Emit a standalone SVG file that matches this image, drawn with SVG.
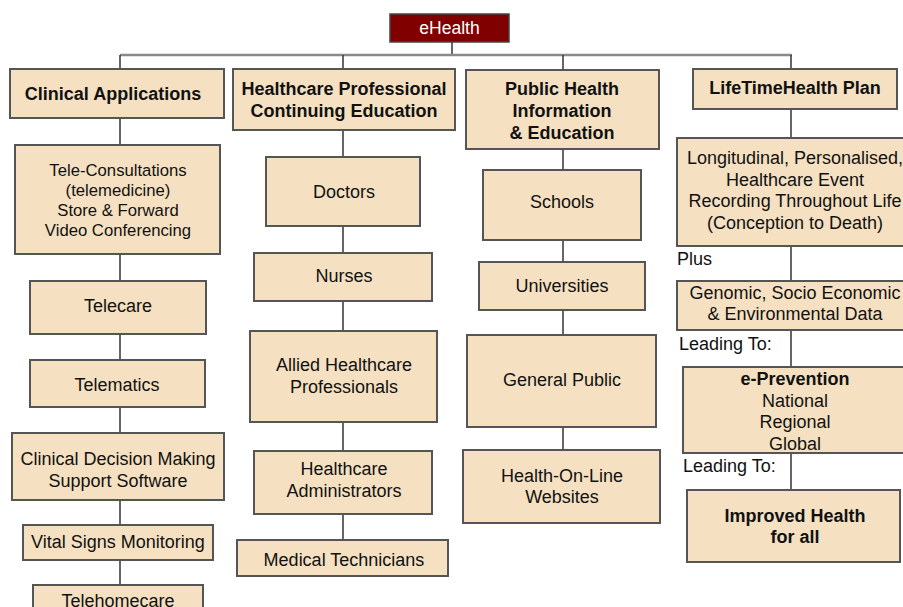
<svg xmlns="http://www.w3.org/2000/svg" width="903" height="607" viewBox="0 0 903 607">
<style>
.box{fill:#f5e1c2;stroke:#555;stroke-width:2}
.t{font-family:"Liberation Sans",Arial,sans-serif;font-size:18px;fill:#111;text-anchor:middle}
.s{font-size:16.7px}
.b{font-weight:bold;font-size:18px}
.lbl{font-family:"Liberation Sans",Arial,sans-serif;font-size:18px;fill:#111}
.c{stroke:#333;stroke-width:1.5;fill:none}
.bar{stroke:#8a8a8a;stroke-width:2.5;fill:none}
</style>
<g id="connectors">
<line class="c" x1="452" y1="42" x2="452" y2="55"/>
<line class="bar" x1="120" y1="55" x2="792" y2="55"/>
<line class="c" x1="120" y1="55" x2="120" y2="69"/>
<line class="c" x1="343" y1="55" x2="343" y2="69"/>
<line class="c" x1="563" y1="55" x2="563" y2="70"/>
<line class="c" x1="791" y1="55" x2="791" y2="69"/>
<line class="c" x1="120" y1="118" x2="120" y2="585"/>
<line class="c" x1="343" y1="130" x2="343" y2="540"/>
<line class="c" x1="563" y1="149" x2="563" y2="450"/>
<line class="c" x1="791" y1="109" x2="791" y2="490"/>
</g>
<g id="ehealth">
<rect x="390" y="14" width="119" height="28" fill="#800000" stroke="#444" stroke-width="1.5"/>
<text class="t" x="449.5" y="34" style="fill:#fff;font-size:17.5px">eHealth</text>
</g>
<g id="clinical-applications">
<rect class="box" x="10" y="69" width="214" height="49"/>
<text class="t b" x="113" y="100">Clinical Applications</text>
</g>
<g id="tele-consultations">
<rect class="box" x="15" y="145" width="205" height="109"/>
<text class="t s" x="118" y="176">Tele-Consultations</text>
<text class="t s" x="118" y="196">(telemedicine)</text>
<text class="t s" x="118" y="216">Store &amp; Forward</text>
<text class="t s" x="118" y="236">Video Conferencing</text>
</g>
<g id="telecare">
<rect class="box" x="30" y="281" width="176" height="53"/>
<text class="t" x="118" y="312">Telecare</text>
</g>
<g id="telematics">
<rect class="box" x="30" y="360" width="175" height="47"/>
<text class="t" x="117" y="391">Telematics</text>
</g>
<g id="clinical-decision">
<rect class="box" x="12" y="433" width="212" height="67"/>
<text class="t" x="118" y="465">Clinical Decision Making</text>
<text class="t" x="118" y="487">Support Software</text>
</g>
<g id="vital-signs">
<rect class="box" x="23" y="525" width="190" height="35"/>
<text class="t" x="118" y="548">Vital Signs Monitoring</text>
</g>
<g id="telehomecare">
<rect class="box" x="33" y="585" width="170" height="30"/>
<text class="t" x="118" y="607">Telehomecare</text>
</g>
<g id="hpce">
<rect class="box" x="233" y="69" width="222" height="61"/>
<text class="t b" x="344" y="95">Healthcare Professional</text>
<text class="t b" x="344" y="117">Continuing Education</text>
</g>
<g id="doctors">
<rect class="box" x="266" y="157" width="154" height="69"/>
<text class="t" x="344" y="198">Doctors</text>
</g>
<g id="nurses">
<rect class="box" x="254" y="253" width="178" height="48"/>
<text class="t" x="344" y="282">Nurses</text>
</g>
<g id="allied">
<rect class="box" x="250" y="331" width="187" height="91"/>
<text class="t" x="344" y="371">Allied Healthcare</text>
<text class="t" x="344" y="393">Professionals</text>
</g>
<g id="administrators">
<rect class="box" x="254" y="451" width="178" height="63"/>
<text class="t" x="344" y="475">Healthcare</text>
<text class="t" x="344" y="497">Administrators</text>
</g>
<g id="technicians">
<rect class="box" x="237" y="540" width="211" height="36"/>
<text class="t" x="344" y="566">Medical Technicians</text>
</g>
<g id="public-health">
<rect class="box" x="466" y="70" width="193" height="79"/>
<text class="t b" x="562" y="95">Public Health</text>
<text class="t b" x="562" y="117">Information</text>
<text class="t b" x="562" y="139">&amp; Education</text>
</g>
<g id="schools">
<rect class="box" x="483" y="170" width="158" height="70"/>
<text class="t" x="562" y="208">Schools</text>
</g>
<g id="universities">
<rect class="box" x="479" y="262" width="166" height="48"/>
<text class="t" x="562" y="292">Universities</text>
</g>
<g id="general-public">
<rect class="box" x="467" y="335" width="189" height="92"/>
<text class="t" x="562" y="386">General Public</text>
</g>
<g id="health-online">
<rect class="box" x="463" y="450" width="197" height="73"/>
<text class="t" x="562" y="482">Health-On-Line</text>
<text class="t" x="562" y="503">Websites</text>
</g>
<g id="lifetime">
<rect class="box" x="693" y="69" width="204" height="40"/>
<text class="t b" x="795" y="94">LifeTimeHealth Plan</text>
</g>
<g id="longitudinal">
<rect class="box" x="677" y="138" width="232" height="108"/>
<text class="t" x="795" y="164">Longitudinal, Personalised,</text>
<text class="t" x="795" y="186">Healthcare Event</text>
<text class="t" x="795" y="207">Recording Throughout Life</text>
<text class="t" x="795" y="229">(Conception to Death)</text>
</g>
<text class="lbl" x="677" y="265">Plus</text>
<g id="genomic">
<rect class="box" x="677" y="281" width="232" height="49"/>
<text class="t" x="795" y="299">Genomic, Socio Economic</text>
<text class="t" x="795" y="320">&amp; Environmental Data</text>
</g>
<text class="lbl" x="679" y="350">Leading To:</text>
<g id="e-prevention">
<rect class="box" x="683" y="367" width="226" height="86"/>
<text class="t b" x="795" y="385">e-Prevention</text>
<text class="t" x="795" y="407">National</text>
<text class="t" x="795" y="428">Regional</text>
<text class="t" x="795" y="450">Global</text>
</g>
<text class="lbl" x="683" y="472">Leading To:</text>
<g id="improved-health">
<rect class="box" x="687" y="490" width="213" height="72"/>
<text class="t b" x="795" y="522">Improved Health</text>
<text class="t b" x="795" y="543">for all</text>
</g>
</svg>
